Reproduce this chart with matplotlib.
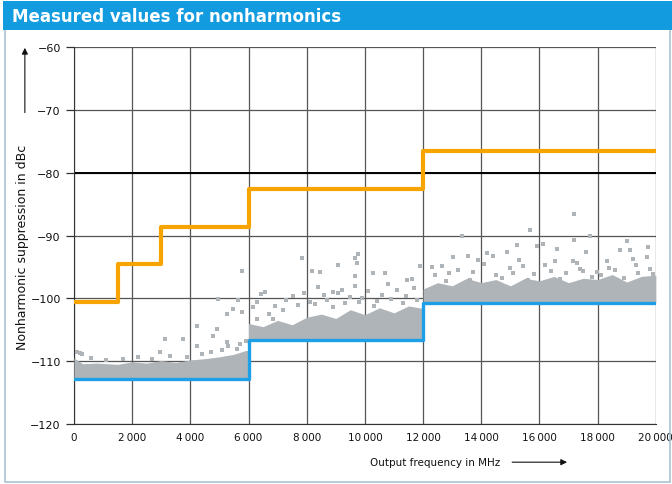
import matplotlib.pyplot as plt
from matplotlib.patches import Rectangle

# Spec limit (orange) and typical floor (blue), step edges in MHz
spec_x = [0, 1500, 3000, 6000, 12000, 20000]
spec_y = [-100.6, -94.6, -88.6, -82.6, -76.6, -76.6]
floor_x = [0, 6000, 12000, 20000]
floor_y = [-112.8, -106.6, -100.7, -100.7]

band1_x = [0, 300, 800, 1500, 2000, 2500, 3000, 3500, 4000, 4500, 5000, 5500, 5900, 6000]
band1_top = [-109.5, -110.4, -110.3, -110.5, -110.1, -110.3, -109.9, -110.2, -109.8, -109.6, -109.3, -108.9, -108.3, -108.3]
band2_x = [6000, 6500, 7000, 7500, 8000, 8500, 9000, 9500, 10000, 10500, 11000, 11500, 12000]
band2_top = [-104.0, -104.5, -103.5, -104.2, -103.0, -102.5, -103.2, -101.8, -102.6, -101.5, -102.3, -101.2, -101.6]
band3_x = [12000, 12500, 13000, 13500, 14000, 14500, 15000, 15500, 16000, 16500, 17000, 17500, 18000, 18500, 19000, 19500, 20000]
band3_top = [-98.5, -97.5, -98.0, -96.8, -97.5, -97.0, -98.0, -96.8, -97.2, -96.5, -97.5, -96.8, -97.0, -96.2, -97.4, -96.5, -96.3]

# Scattered single measurements above the band
pts_x = [5773, 4948, 5636, 5464, 5258, 5773, 4227, 4914, 3127, 3746, 4777, 5258, 4227, 2955, 5601, 275, 120,
         200, 600, 1100, 1700, 2200, 2700, 3300, 3900, 4400, 4700, 5100, 5300, 5700, 5900,
         7835, 8179, 8454, 9072, 9656, 9759, 9725, 9656, 10275, 10687, 11890, 11443, 11615,
         6426, 6564, 7526, 8385, 8900, 9072, 10790, 9656, 6151, 6838, 7010, 6289,
         6700, 7200, 7700, 8100, 8700, 9300, 9900, 10400, 10900, 11300, 11800,
         6300, 6900, 7300, 7900, 8300, 8600, 9200, 9500, 9800, 10100, 10600, 11100, 11400, 11700, 10300, 8900,
         17182, 15670, 13333, 17182, 17732, 19003, 19725, 18763, 19107, 15223, 15911, 16117, 16598,
         14192, 14880, 17595, 13024, 13540, 13883, 14399, 12646, 16529, 17148, 19691, 18316, 19210,
         15430, 17388, 17973, 14983,
         12400, 12900, 13700, 14500, 15100, 15800, 16400, 16900, 17500, 18100, 18600, 19400, 19900,
         12300, 12800, 13200, 13600, 14100, 14700, 15300, 15600, 16200, 16700, 17300, 17800, 18400, 18900, 19300, 19800]
pts_y = [-95.7, -100.1, -100.3, -101.7, -102.5, -102.2, -104.4, -104.9, -106.5, -106.5, -106.0, -107.0, -107.6, -108.6, -108.1, -108.9, -108.5,
         -108.7, -109.5, -109.8, -109.6, -109.4, -109.7, -109.2, -109.3, -108.8, -108.5, -108.2, -107.6, -107.3, -106.8,
         -93.6, -95.7, -95.8, -94.7, -93.6, -93.0, -94.4, -96.5, -96.0, -96.0, -94.9, -97.1, -96.9,
         -99.3, -99.0, -99.6, -98.2, -99.0, -99.2, -97.7, -98.0, -101.4, -103.3, -104.9, -103.3,
         -102.5, -101.8, -101.0, -100.6, -100.2, -100.8, -100.0, -100.4, -100.1, -100.7, -100.3,
         -100.5, -101.2, -100.3, -99.2, -100.9, -99.5, -98.6, -99.8, -100.6, -98.9, -99.4, -98.7, -99.6, -98.3, -101.2, -101.4,
         -86.6, -89.1, -90.1, -90.7, -90.1, -90.9, -91.8, -92.3, -92.3, -91.5, -91.7, -91.4, -92.2,
         -92.8, -92.6, -92.6, -93.4, -93.3, -93.9, -93.3, -94.9, -94.1, -94.1, -93.4, -94.1, -93.8,
         -94.9, -95.4, -95.8, -95.1,
         -96.3, -96.0, -95.8, -96.2, -95.9, -96.1, -95.6, -96.0, -95.7, -96.2, -95.5, -95.9, -96.1,
         -95.0, -97.2, -95.5, -97.0, -94.6, -96.8, -93.9, -97.1, -94.7, -96.9, -94.4, -96.6, -95.2, -96.8, -94.7, -95.3]

x_ticks = [0, 2000, 4000, 6000, 8000, 10000, 12000, 14000, 16000, 18000, 20000]
x_labels = ['0', '2\u2009000', '4\u2009000', '6\u2009000', '8\u2009000', '10\u2009000',
            '12\u2009000', '14\u2009000', '16\u2009000', '18\u2009000', '20\u2009000']
y_ticks = [-120, -110, -100, -90, -80, -70, -60]

fig = plt.figure(figsize=(6.72, 4.85), dpi=100)
ax = fig.add_axes([0.110, 0.1237, 0.866, 0.777])

gray = '#afb4b8'
for bx, bt, bot in [(band1_x, band1_top, floor_y[0]), (band2_x, band2_top, floor_y[1]), (band3_x, band3_top, floor_y[2])]:
    ax.fill_between(bx, bot, bt, color=gray, lw=0, zorder=3)
ax.scatter(pts_x, pts_y, s=7, marker='s', color=gray, lw=0, zorder=3)

ax.step(floor_x, floor_y, where='post', color='#1ea0e6', lw=2.4, zorder=4)
ax.step(spec_x, spec_y, where='post', color='#f7a400', lw=3, zorder=5)

ax.set_xlim(0, 20000)
ax.set_ylim(-120, -60)
ax.set_xticks(x_ticks)
ax.set_xticklabels(x_labels)
ax.set_yticks(y_ticks)
ax.set_yticklabels(['\u2212' + str(-v) for v in y_ticks])
ax.grid(True, color='#555555', lw=0.9, zorder=1)
ax.axhline(-80, color='black', lw=1.4, zorder=2)
for s in ['top', 'right']:
    ax.spines[s].set_visible(False)
for s in ['left', 'bottom']:
    ax.spines[s].set_color('#333333')
ax.tick_params(axis='both', direction='out', length=6, width=0.9, color='#333333',
               labelsize=8, labelcolor='#111111')
ax.tick_params(axis='x', length=0, pad=6, labelsize=7.5)

# Axis labels with arrows
fig.text(0.033, 0.49, 'Nonharmonic suppression in dBc', rotation=90, ha='center', va='center',
         fontsize=9, color='#111111')
ax.annotate('', xy=(0.037, 0.905), xytext=(0.037, 0.76), xycoords='figure fraction',
            arrowprops=dict(arrowstyle='-|>', color='#111111', lw=0.8, mutation_scale=9))
fig.text(0.745, 0.045, 'Output frequency in MHz', ha='right', va='center', fontsize=7.5, color='#111111')
ax.annotate('', xy=(0.848, 0.045), xytext=(0.758, 0.045), xycoords='figure fraction',
            arrowprops=dict(arrowstyle='-|>', color='#111111', lw=0.8, mutation_scale=9))

# Frame and title bar
fig.patches.append(Rectangle((0.007, 0.004), 0.99, 0.936, transform=fig.transFigure,
                             fill=False, edgecolor='#a9c3d3', lw=1.2))
fig.patches.append(Rectangle((0.004, 0.936), 0.996, 0.06, transform=fig.transFigure,
                             facecolor='#139be0', edgecolor='none'))
fig.text(0.018, 0.965, 'Measured values for nonharmonics', ha='left', va='center',
         fontsize=12, fontweight='bold', color='white')

fig.savefig('out.png', dpi=100)
